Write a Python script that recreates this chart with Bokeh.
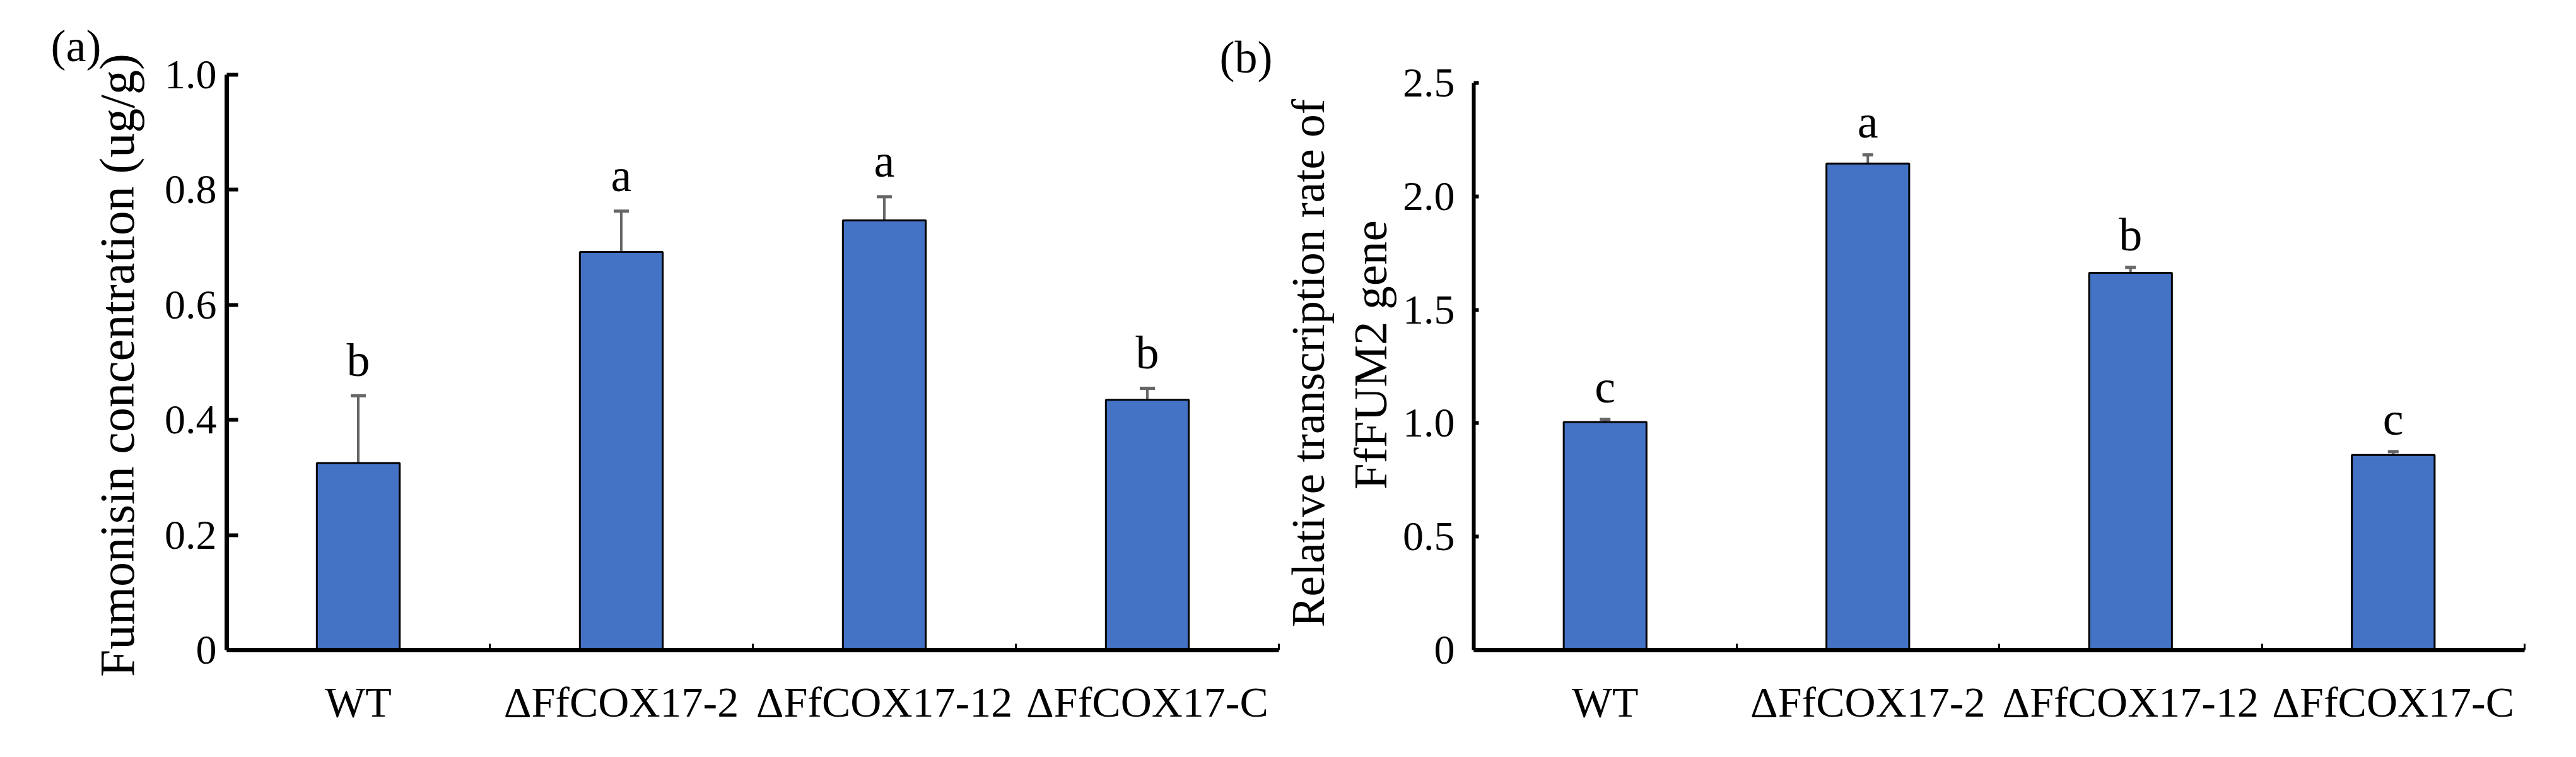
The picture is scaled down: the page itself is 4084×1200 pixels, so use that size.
from bokeh.plotting import figure
from bokeh.models import (Range1d, FixedTicker, ColumnDataSource, Whisker, TeeHead,
                          NumeralTickFormatter, LinearAxis)
from bokeh.layouts import row
from bokeh.core.properties import value
from bokeh.embed import file_html
from bokeh.resources import INLINE

# ---------------- data ----------------
categories = ["WT", "\u0394FfCOX17-2", "\u0394FfCOX17-12", "\u0394FfCOX17-C"]

fum_values = [0.325, 0.692, 0.747, 0.435]
fum_errors = [0.117, 0.071, 0.041, 0.020]
fum_letters = ["b", "a", "a", "b"]
fum_ticks = [0, 0.2, 0.4, 0.6, 0.8, 1.0]

fum2_values = [1.005, 2.145, 1.663, 0.860]
fum2_errors = [0.012, 0.038, 0.024, 0.015]
fum2_letters = ["c", "a", "b", "c"]
fum2_ticks = [0, 0.5, 1.0, 1.5, 2.0, 2.5]

ylabel_a = "Fumonisin concentration (ug/g)"
ylabel_b = ["Relative transcription rate of", "FfFUM2 gene"]
panel_tags = ["(a)", "(b)"]

FONT = "Liberation Serif"
BAR_COLOR = "#4472C4"
ERR_COLOR = "#666666"
H = 1184
TOP = 20      # top border of both figures (frames are aligned in the row)
BOTTOM = 154  # bottom border of both figures


def style_axes(p, xs, ticks, tick_len, yaxis_w, label_standoff, ymax):
    xa = p.xaxis[0]
    xa.ticker = FixedTicker(ticks=xs, minor_ticks=[1, 2, 3, 4])
    xa.major_label_overrides = {x: c for x, c in zip(xs, categories)}
    xa.major_tick_line_color = None
    xa.minor_tick_in = 10
    xa.minor_tick_out = 0
    xa.minor_tick_line_width = 3
    xa.minor_tick_line_color = "black"
    xa.axis_line_width = 7
    xa.axis_line_color = "black"
    xa.major_label_text_font = FONT
    xa.major_label_text_font_size = "68px"
    xa.major_label_text_color = "black"
    xa.major_label_standoff = 38

    ya = p.yaxis[0]
    ya.ticker = FixedTicker(ticks=ticks, minor_ticks=[])
    ya.bounds = (0, ymax)
    ya.formatter = NumeralTickFormatter(format="0.0")
    ya.major_label_overrides = {0: "0"}
    ya.major_tick_in = tick_len
    ya.major_tick_out = 0
    ya.major_tick_line_width = 6
    ya.major_tick_line_color = "black"
    ya.minor_tick_line_color = None
    ya.axis_line_width = yaxis_w
    ya.axis_line_color = "black"
    ya.major_label_text_font = FONT
    ya.major_label_text_font_size = "66px"
    ya.major_label_text_color = "black"
    ya.major_label_standoff = label_standoff


def text_axis(p, y, text, standoff, size, vertical):
    """An invisible outer left axis whose single tick label carries a text."""
    ax = LinearAxis(ticker=FixedTicker(ticks=[y], minor_ticks=[]))
    ax.major_label_overrides = {y: text}
    if vertical:
        ax.major_label_orientation = "vertical"
    ax.axis_line_color = None
    ax.major_tick_line_color = None
    ax.minor_tick_line_color = None
    ax.major_tick_in = 0
    ax.major_tick_out = 0
    ax.major_label_text_font = FONT
    ax.major_label_text_font_size = size
    ax.major_label_text_color = "black"
    ax.major_label_standoff = standoff
    p.add_layout(ax, "left")


def draw_bars(p, xs, vals, errs, letters, gap, cap):
    src = ColumnDataSource(dict(x=xs, top=vals,
                                upper=[v + e for v, e in zip(vals, errs)],
                                lower=[v - e for v, e in zip(vals, errs)],
                                ly=[v + e + gap for v, e in zip(vals, errs)],
                                letter=letters))
    p.vbar(x="x", top="top", bottom=0, width=0.315, source=src,
           fill_color=BAR_COLOR, line_color="black", line_width=3)
    w = Whisker(base="x", upper="upper", lower="lower", source=src, dimension="height",
                line_color=ERR_COLOR, line_width=4,
                upper_head=TeeHead(size=cap, line_color=ERR_COLOR, line_width=5),
                lower_head=TeeHead(size=cap, line_color=ERR_COLOR, line_width=5))
    p.add_layout(w)
    p.text(x="x", y="ly", text="letter", source=src, text_font=value(FONT),
           text_font_size="74px", text_align="center", text_baseline="alphabetic",
           text_color="black")


def base_fig(width, xr, yr, left, right):
    p = figure(width=width, height=H, output_backend="svg", toolbar_location=None,
               x_range=xr, y_range=yr,
               min_border_left=left, min_border_right=right,
               min_border_top=TOP, min_border_bottom=BOTTOM)
    p.outline_line_color = None
    p.grid.visible = False
    p.background_fill_color = "white"
    p.border_fill_color = "white"
    return p


n = len(categories)
xs = [i + 0.5 for i in range(n)]
frame_h = H - TOP - BOTTOM

# ---------- panel (a) ----------
ymax1 = 1.0
y_end1 = ymax1 * frame_h / 912.0          # axis top (1.0) sits 912 px above the baseline
p1 = base_fig(2030, Range1d(0, n), Range1d(0, y_end1), 359, 3)
draw_bars(p1, xs, fum_values, fum_errors, fum_letters, 0.062, 24)
style_axes(p1, xs, fum_ticks, 18, 7, 16, ymax1)
text_axis(p1, 0.495, ylabel_a, 28, "78px", True)            # y axis title
text_axis(p1, 1.05, panel_tags[0], -21, "72px", False)      # "(a)"

# ---------- panel (b) ----------
ymax2 = 2.5
y_end2 = ymax2 * frame_h / 899.0          # axis top (2.5) sits 899 px above the baseline
p2 = base_fig(2038, Range1d(0, n), Range1d(0, y_end2), 306, 66)
draw_bars(p2, xs, fum2_values, fum2_errors, fum2_letters, 0.145, 17)
style_axes(p2, xs, fum2_ticks, 8, 6, 30, ymax2)
text_axis(p2, 1.301, ylabel_b[1], 6, "75px", True)          # second title line
text_axis(p2, 1.265, ylabel_b[0], 13, "73px", True)         # first title line

# "(b)": text inside panel (a)'s frame, above its right end
p1.text(x=[3.875], y=[1.03], text=[panel_tags[1]], text_font=value(FONT),
        text_font_size="72px", text_align="center", text_baseline="middle",
        text_color="black")

layout = row(p1, p2)
open("out.html", "w").write(file_html(layout, INLINE))
